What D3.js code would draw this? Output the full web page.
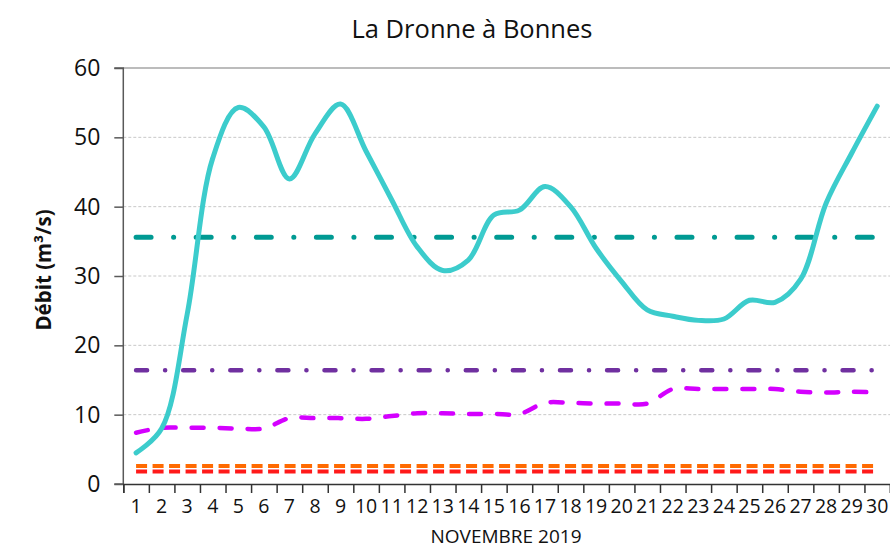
<!DOCTYPE html>
<html>
<head>
<meta charset="utf-8">
<script src="https://cdn.jsdelivr.net/npm/d3@7"></script>
<style>
  body { margin: 0; background: #fff; }
  text { font-family: "Open Sans", "Noto Sans", sans-serif; fill: #111; }
</style>
</head>
<body>
<div id="wrapper"></div>
<script>
// data
const days = d3.range(1, 31)
const debit = [4.5, 8.0, 24.5, 47.0, 54.3, 51.5, 44.0, 50.5, 54.8, 48.0,
  41.0, 34.2, 30.8, 32.3, 38.8, 39.5, 42.9, 40.0, 34.0, 29.2,
  25.1, 24.2, 23.6, 23.8, 26.5, 26.2, 29.5, 40.5, 47.7, 54.5]
const debitRef = [7.4, 8.1, 8.1, 8.1, 8.0, 8.0, 9.5, 9.5, 9.5, 9.4,
  9.8, 10.2, 10.2, 10.1, 10.1, 10.1, 11.7, 11.7, 11.6, 11.6,
  11.6, 13.7, 13.7, 13.7, 13.7, 13.7, 13.3, 13.2, 13.3, 13.2]
const seuilVigilance = 35.6
const seuilAlerte = 16.4
const seuilAlerteRenforcee = 2.6
const seuilCrise = 1.8
const yTicks = [0, 10, 20, 30, 40, 50, 60]

// dimensions
let dimensions = {
  width: 890,
  height: 552,
  margin: { top: 68, right: 0, bottom: 68, left: 123.3 },
}
dimensions.boundedWidth = dimensions.width - dimensions.margin.left - dimensions.margin.right
dimensions.boundedHeight = dimensions.height - dimensions.margin.top - dimensions.margin.bottom

const wrapper = d3.select("#wrapper")
  .append("svg")
  .attr("width", dimensions.width)
  .attr("height", dimensions.height)

const bounds = wrapper.append("g")
  .attr("transform", `translate(${dimensions.margin.left},${dimensions.margin.top})`)

// scales
const xScale = d3.scaleBand()
  .domain(days)
  .range([0, dimensions.boundedWidth])
  .padding(0)
const xEdges = d3.scaleLinear()
  .domain([0, days.length])
  .range([0, dimensions.boundedWidth])
const yScale = d3.scaleLinear()
  .domain([0, 60])
  .range([dimensions.boundedHeight, 0])

const xAt = d => xScale(d) + xScale.bandwidth() / 2

// grid
bounds.append("g")
  .selectAll("line")
  .data(yTicks.filter(t => t > 0))
  .join("line")
  .attr("x1", 0)
  .attr("x2", dimensions.boundedWidth)
  .attr("y1", d => yScale(d))
  .attr("y2", d => yScale(d))
  .attr("stroke", d => d === 60 ? "#a6a6a6" : "#c8c8c8")
  .attr("stroke-width", d => d === 60 ? 1.5 : 1)
  .attr("stroke-dasharray", d => d === 60 ? null : "3,2")

// reference lines
const flat = v => days.map(d => ({ day: d, value: v }))
const straight = d3.line().x(d => xAt(d.day)).y(d => yScale(d.value))
const smooth = d3.line().x(d => xAt(d.day)).y(d => yScale(d.value)).curve(d3.curveCatmullRom.alpha(0.5))

bounds.append("path")
  .datum(flat(seuilCrise))
  .attr("d", straight)
  .attr("fill", "none")
  .attr("stroke", "#ff1a1a")
  .attr("stroke-width", 4)
  .attr("stroke-dasharray", "11,5.5")

bounds.append("path")
  .datum(flat(seuilAlerteRenforcee))
  .attr("d", straight)
  .attr("fill", "none")
  .attr("stroke", "#ff6a00")
  .attr("stroke-width", 4)
  .attr("stroke-dasharray", "11,5.5")

bounds.append("path")
  .datum(days.map((d, i) => ({ day: d, value: debitRef[i] })))
  .attr("d", smooth)
  .attr("fill", "none")
  .attr("stroke", "#d400ff")
  .attr("stroke-width", 4.5)
  .attr("stroke-linecap", "round")
  .attr("stroke-dasharray", "12,16")

bounds.append("path")
  .datum(flat(seuilAlerte))
  .attr("d", straight)
  .attr("fill", "none")
  .attr("stroke", "#7030a0")
  .attr("stroke-width", 4.5)
  .attr("stroke-linecap", "round")
  .attr("stroke-dasharray", "11,18,0.1,18")

bounds.append("path")
  .datum(flat(seuilVigilance))
  .attr("d", straight)
  .attr("fill", "none")
  .attr("stroke", "#009a93")
  .attr("stroke-width", 5)
  .attr("stroke-linecap", "round")
  .attr("stroke-dasharray", "15,22.5,0.1,22.5")

// main series
bounds.append("path")
  .datum(days.map((d, i) => ({ day: d, value: debit[i] })))
  .attr("d", smooth)
  .attr("fill", "none")
  .attr("stroke", "#3ccccc")
  .attr("stroke-width", 5)
  .attr("stroke-linejoin", "round")
  .attr("stroke-linecap", "round")

// axes
const yAxisGen = d3.axisLeft(yScale).tickValues(yTicks).tickSize(9).tickPadding(14)
const yAxis = bounds.append("g").call(yAxisGen)
yAxis.select(".domain").attr("d", `M-9,0H0V${dimensions.boundedHeight}H-9`).attr("stroke", "#595959").attr("stroke-width", 1.5)
yAxis.selectAll(".tick line").attr("stroke", "#595959").attr("stroke-width", 1.5)
yAxis.selectAll("text").style("font-size", "23px").attr("fill", "#111")

const xTickGen = d3.axisBottom(xEdges).ticks(30).tickSize(9).tickFormat("")
const xTicks = bounds.append("g")
  .attr("transform", `translate(0,${dimensions.boundedHeight})`)
  .call(xTickGen)
xTicks.select(".domain").attr("stroke", "#333").attr("stroke-width", 1.5)
xTicks.selectAll(".tick line").attr("stroke", "#333").attr("stroke-width", 1.5)

const xAxisGen = d3.axisBottom(xScale).tickSize(0).tickPadding(15)
const xAxis = bounds.append("g")
  .attr("transform", `translate(0,${dimensions.boundedHeight})`)
  .call(xAxisGen)
xAxis.select(".domain").remove()
xAxis.selectAll("text").style("font-size", "19.5px").attr("fill", "#111")

// labels
wrapper.append("text")
  .attr("x", 472)
  .attr("y", 38)
  .attr("text-anchor", "middle")
  .style("font-size", "25.5px")
  .text("La Dronne à Bonnes")

wrapper.append("text")
  .attr("x", 506)
  .attr("y", 543)
  .attr("text-anchor", "middle")
  .style("font-size", "19px")
  .text("NOVEMBRE 2019")

wrapper.append("text")
  .attr("transform", "translate(46,270) rotate(-90)")
  .attr("text-anchor", "middle")
  .attr("dominant-baseline", "middle")
  .style("font-size", "20.5px")
  .style("font-weight", "bold")
  .text("Débit (m³/s)")
</script>
</body>
</html>
